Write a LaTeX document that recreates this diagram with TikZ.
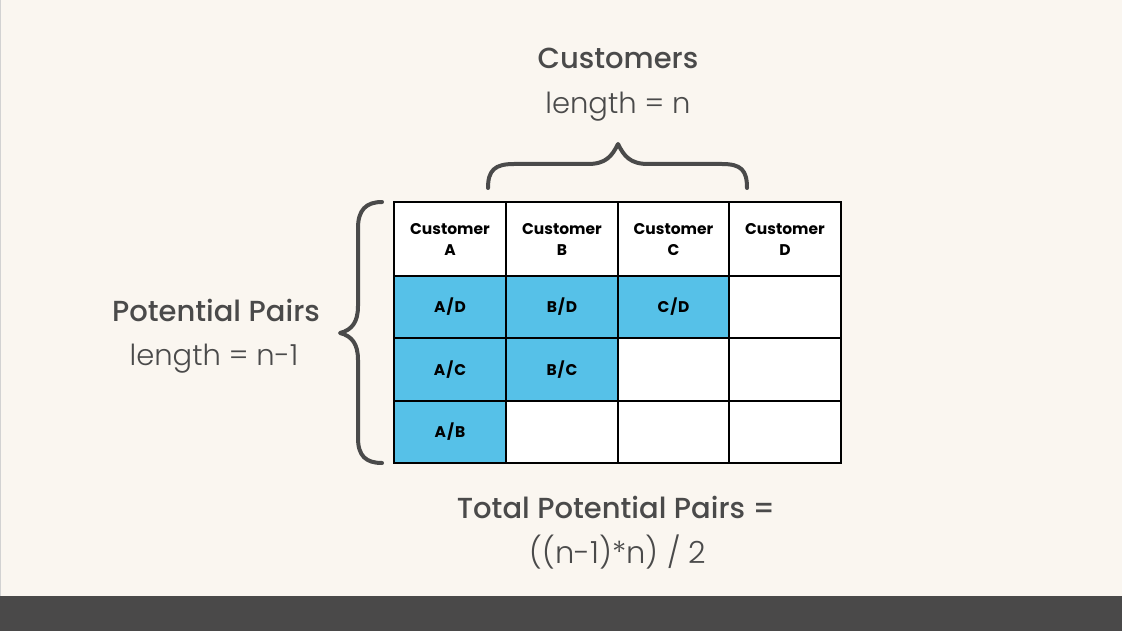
\documentclass[tikz,border=0pt]{standalone}
\usepackage{fontspec}
\setmainfont{Poppins}
\newfontfamily\lightf{Poppins Light}
\newfontfamily\medf{Poppins Medium}
\newfontfamily\cellf{Poppins}[LetterSpace=6]
\definecolor{bg}{HTML}{FAF6F0}
\definecolor{bar}{HTML}{4A4949}
\definecolor{ink}{HTML}{4A4A4A}
\definecolor{cellblue}{HTML}{56C1E8}
\tikzset{
  title/.style={text=ink, font=\medf\fontsize{29}{32}\selectfont, anchor=base, inner sep=0pt},
  sub/.style={text=ink, font=\lightf\fontsize{29}{32}\selectfont, anchor=base, inner sep=0pt},
  cell/.style={draw=black, line width=2.2pt, fill=white, inner sep=0pt, align=center,
    font=\cellf\fontsize{15.5}{20}\selectfont\bfseries, text=black},
  pair/.style={cell, fill=cellblue},
  head/.style={font=\fontsize{15.5}{20}\selectfont\bfseries, inner sep=0pt, anchor=base},
  bracestyle/.style={draw=ink, line width=4pt, line cap=round, line join=round}
}
\begin{document}
\begin{tikzpicture}[x=1pt,y=-1pt]
\useasboundingbox (0,0) rectangle (1122,631);
\fill[bg] (0,0) rectangle (1122,631);
\fill[gray!35] (0,0) rectangle (1,596);
\fill[bar] (0,596) rectangle (1122,631);

% header row
\foreach \n/\x/\w/\l in {a/450/112/A, b/562/112/B, c/673.5/111/C, d/785/112/D}{
  \node[cell, minimum width=\w, minimum height=74] (h\n) at (\x,239) {};
  \node[head] (ht\n) at (\x,235) {Customer};
  \node[head] (hl\n) at (\x,255) {\l};
}
% row 1
\node[pair, minimum width=112, minimum height=62] (ad) at (450,307) {A/D};
\node[pair, minimum width=112, minimum height=62] (bd) at (562,307) {B/D};
\node[pair, minimum width=111, minimum height=62] (cd) at (673.5,307) {C/D};
\node[cell, minimum width=112, minimum height=62] (r1d) at (785,307) {};
% row 2
\node[pair, minimum width=112, minimum height=63] (ac) at (450,369.5) {A/C};
\node[pair, minimum width=112, minimum height=63] (bc) at (562,369.5) {B/C};
\node[cell, minimum width=111, minimum height=63] (r2c) at (673.5,369.5) {};
\node[cell, minimum width=112, minimum height=63] (r2d) at (785,369.5) {};
% row 3
\node[pair, minimum width=112, minimum height=62] (ab) at (450,432) {A/B};
\node[cell, minimum width=112, minimum height=62] (r3b) at (562,432) {};
\node[cell, minimum width=111, minimum height=62] (r3c) at (673.5,432) {};
\node[cell, minimum width=112, minimum height=62] (r3d) at (785,432) {};

% top brace
\draw[bracestyle] (488,188) .. controls (488,170) and (495,164) .. (514,164)
  -- (588,164) .. controls (606,164) and (612,156) .. (618,144)
  .. controls (624,156) and (630,164) .. (648,164)
  -- (722,164) .. controls (741,164) and (747,170) .. (747,188);
% left brace
\draw[bracestyle] (382,202) .. controls (366,202) and (358,210) .. (358,228)
  -- (358,306) .. controls (358,322) and (352,330) .. (340,333)
  .. controls (352,336) and (358,344) .. (358,360)
  -- (358,438) .. controls (358,456) and (366,463) .. (382,463);

% texts
\node[title] (cust) at (618,69) {Customers};
\node[sub] (custlen) at (618,114) {length = n};
\node[title] (pp) at (216,321) {Potential Pairs};
\node[sub] (pplen) at (214,365) {length = n-1};
\node[title] (tot) at (616,518) {Total Potential Pairs =};
\node[sub, font=\lightf\fontsize{30.5}{34}\selectfont] (form) at (618,563) {((n-1)*n) / 2};
\end{tikzpicture}
\end{document}
